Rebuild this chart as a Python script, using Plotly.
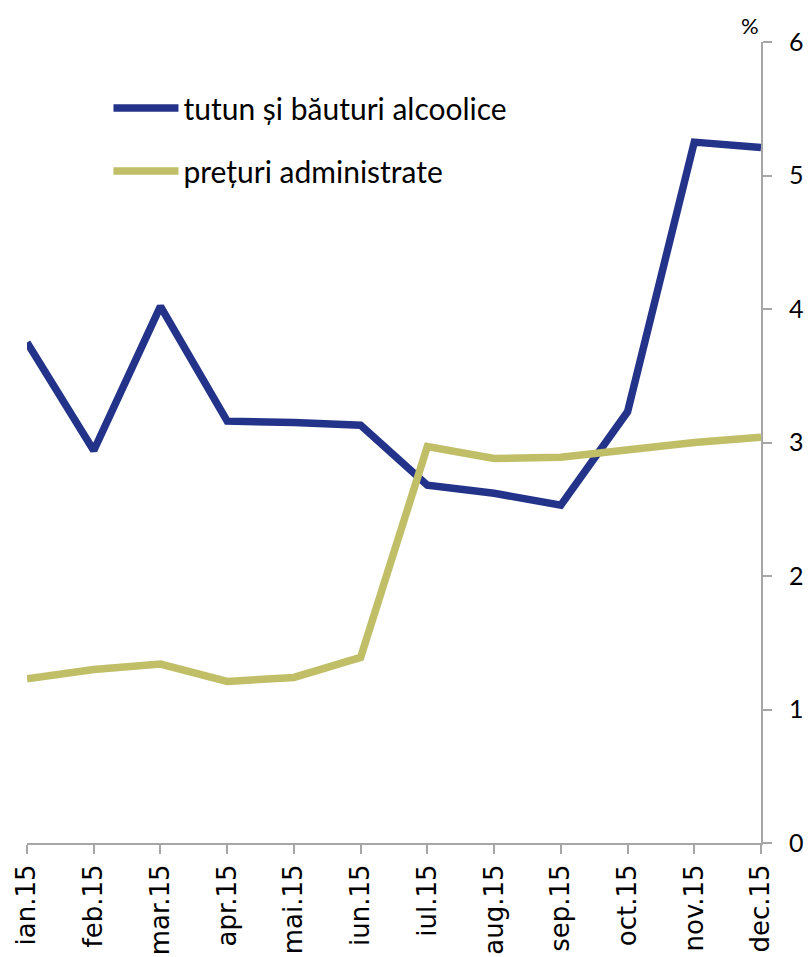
import plotly.graph_objects as go

months = ["ian.15", "feb.15", "mar.15", "apr.15", "mai.15", "iun.15",
          "iul.15", "aug.15", "sep.15", "oct.15", "nov.15", "dec.15"]
tutun = [3.75, 2.94, 4.02, 3.16, 3.15, 3.13, 2.68, 2.62, 2.53, 3.23, 5.25, 5.21]
preturi = [1.23, 1.30, 1.34, 1.21, 1.24, 1.39, 2.97, 2.88, 2.89, 2.95, 3.00, 3.04]
yticks = [0, 1, 2, 3, 4, 5, 6]

BLUE = "#24338A"
OLIVE = "#C0BE67"
GRID = "#A6A6A6"
TXT_FONT = "Lato, Open Sans, sans-serif"

fig = go.Figure()
fig.add_trace(go.Scatter(x=months, y=tutun, mode="lines", name="tutun și băuturi alcoolice",
                         legendgroup="a", line=dict(color=BLUE, width=7.5)))
fig.add_trace(go.Scatter(x=months, y=preturi, mode="lines", name="prețuri administrate",
                         legendgroup="b", line=dict(color=OLIVE, width=7.5)))

# page body adds an 8px offset, so the figure is 8px smaller than the window
fig.update_layout(
    width=804, height=949,
    margin=dict(l=19, r=51, t=34, b=114),
    paper_bgcolor="white", plot_bgcolor="white",
    showlegend=True,
    legend=dict(x=0.111, y=0.95, xanchor="left", yanchor="top",
                font=dict(family=TXT_FONT, size=30, color="black"),
                bgcolor="rgba(0,0,0,0)", tracegroupgap=21, itemwidth=65),
    xaxis=dict(type="category", range=[0, 11], showgrid=False, automargin=False,
               showline=True, linecolor=GRID, linewidth=2,
               ticks="outside", ticklen=9, tickcolor=GRID, tickwidth=2,
               tickangle=-90, tickfont=dict(family="DejaVu Sans", size=26, color="black"),
               zeroline=False),
    yaxis=dict(side="right", range=[0, 6], tickvals=yticks, showgrid=False, automargin=False,
               showline=True, linecolor=GRID, linewidth=2,
               ticks="outside", ticklen=9, tickcolor=GRID, tickwidth=2,
               ticklabelstandoff=12,
               tickfont=dict(family=TXT_FONT, size=25, color="black"),
               zeroline=False),
    annotations=[dict(text="%", xref="paper", yref="paper", x=0.985, y=1.0,
                      yanchor="bottom", xanchor="center", showarrow=False, yshift=1,
                      font=dict(family=TXT_FONT, size=22, color="black"))],
)

fig.write_html("out.html")
